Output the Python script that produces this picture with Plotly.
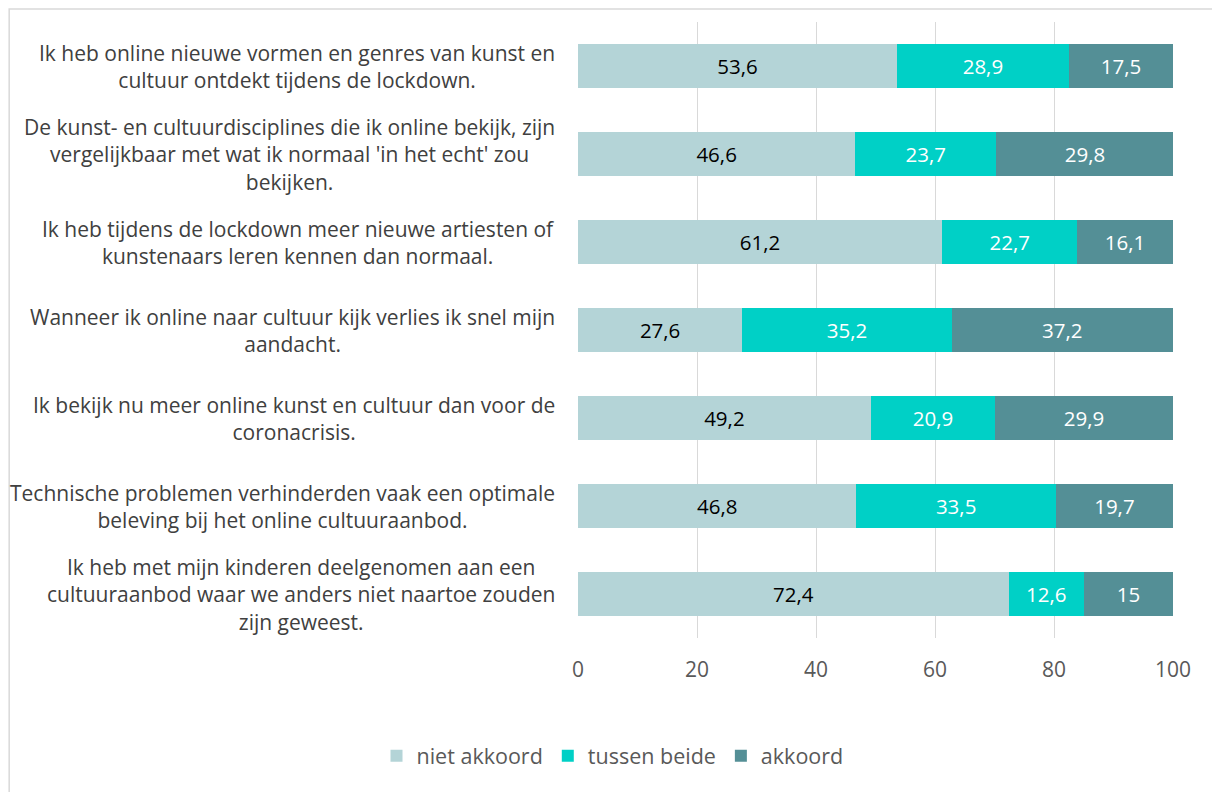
import plotly.graph_objects as go

# statements (top to bottom)
categories = [
    "Ik heb online nieuwe vormen en genres van kunst en<br>cultuur ontdekt tijdens de lockdown.",
    "De kunst- en cultuurdisciplines die ik online bekijk, zijn<br>vergelijkbaar met wat ik normaal 'in het echt' zou<br>bekijken.",
    "Ik heb tijdens de lockdown meer nieuwe artiesten of<br>kunstenaars leren kennen dan normaal.",
    "Wanneer ik online naar cultuur kijk verlies ik snel mijn<br>aandacht.",
    "Ik bekijk nu meer online kunst en cultuur dan voor de<br>coronacrisis.",
    "Technische problemen verhinderden vaak een optimale<br>beleving bij het online cultuuraanbod.",
    "Ik heb met mijn kinderen deelgenomen aan een<br>cultuuraanbod waar we anders niet naartoe zouden<br>zijn geweest.",
]
niet_akkoord = [53.6, 46.6, 61.2, 27.6, 49.2, 46.8, 72.4]
tussen_beide = [28.9, 23.7, 22.7, 35.2, 20.9, 33.5, 12.6]
akkoord = [17.5, 29.8, 16.1, 37.2, 29.9, 19.7, 15]
x_ticks = [0, 20, 40, 60, 80, 100]

FONT = "Open Sans"
keys = list(range(len(categories)))

fig = go.Figure()
series = [
    ("niet akkoord", niet_akkoord, "#B4D4D7", "black"),
    ("tussen beide", tussen_beide, "#00D0C6", "white"),
    ("akkoord", akkoord, "#548F96", "white"),
]
for name, vals, col, tcol in series:
    fig.add_trace(go.Bar(
        y=keys, x=vals, name=name, orientation="h",
        marker=dict(color=col, line=dict(width=0)),
        text=vals, texttemplate="%{x}", textposition="inside",
        insidetextanchor="middle",
        textfont=dict(family=FONT, size=20.5, color=tcol),
    ))

# category labels, centred lines, right edge near the axis
for k, lab in zip(keys, categories):
    fig.add_annotation(
        x=-0.035, xref="paper", y=k, yref="y", text=lab, showarrow=False,
        xanchor="right", yanchor="middle", align="center",
        font=dict(family=FONT, size=21, color="#404040"),
    )

# outer chart border
fig.add_shape(type="rect", xref="paper", yref="paper",
              x0=-0.956, x1=1.09, y0=-0.27, y1=1.021,
              line=dict(color="#D9D9D9", width=1.5), fillcolor="rgba(0,0,0,0)")

fig.update_layout(
    barmode="stack", bargap=0.5,
    width=1220, height=792,
    margin=dict(l=570, r=55, t=14, b=162),
    paper_bgcolor="white", plot_bgcolor="white",
    separators=",.",
    showlegend=True,
    legend=dict(orientation="h", x=0.058, xanchor="center", y=-0.158, yanchor="top",
                font=dict(family=FONT, size=21.5, color="#595959"),
                traceorder="normal", itemwidth=30),
    font=dict(family=FONT),
    uniformtext=dict(minsize=10, mode="show"),
)
fig.update_xaxes(range=[0, 100], tickvals=x_ticks, showgrid=True,
                 gridcolor="#D9D9D9", gridwidth=1, zeroline=False,
                 ticks="", tickfont=dict(family=FONT, size=21, color="#595959"),
                 ticklabelstandoff=17, showline=False)
fig.update_yaxes(autorange="reversed", showticklabels=False, showgrid=False,
                 zeroline=False, showline=False)

fig.write_html("out.html")
